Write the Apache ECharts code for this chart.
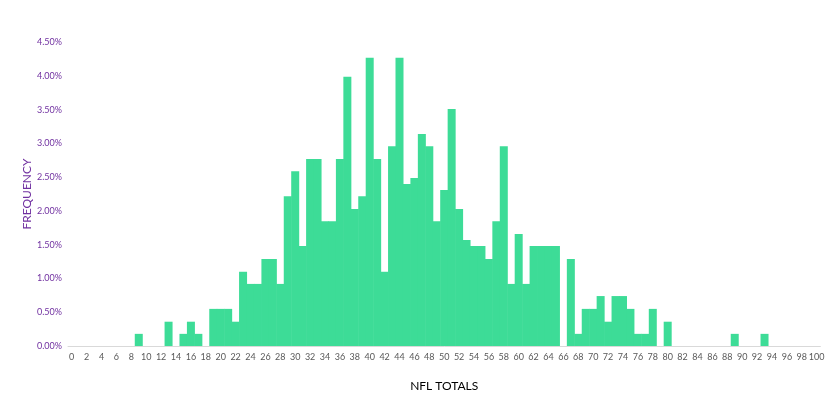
<!DOCTYPE html>
<html><head><meta charset="utf-8">
<script src="https://cdn.jsdelivr.net/npm/echarts@6/dist/echarts.min.js"></script>
<style>html,body{margin:0;padding:0;background:#fff}#c{width:840px;height:412px}</style>
</head><body><div id="c"></div>
<script>
// NFL totals 0..100
const totals = Array.from({length: 101}, (_, i) => String(i));
// frequency (%) per total
const frequency = [
  0, 0, 0, 0, 0, 0, 0, 0, 0, 0.18,          // 0-9
  0, 0, 0, 0.36, 0, 0.18, 0.36, 0.18, 0, 0.55, // 10-19
  0.55, 0.55, 0.36, 1.10, 0.92, 0.92, 1.29, 1.29, 0.92, 2.22, // 20-29
  2.59, 1.48, 2.77, 2.77, 1.85, 1.85, 2.77, 3.99, 2.03, 2.22, // 30-39
  4.27, 2.77, 1.10, 2.96, 4.27, 2.40, 2.49, 3.14, 2.96, 1.85, // 40-49
  2.31, 3.51, 2.03, 1.57, 1.48, 1.48, 1.29, 1.85, 2.96, 0.92, // 50-59
  1.66, 0.92, 1.48, 1.48, 1.48, 1.48, 0, 1.29, 0.18, 0.55,   // 60-69
  0.55, 0.74, 0.36, 0.74, 0.74, 0.55, 0.18, 0.18, 0.55, 0,   // 70-79
  0.36, 0, 0, 0, 0, 0, 0, 0, 0, 0.18,                        // 80-89
  0, 0, 0, 0.18, 0, 0, 0, 0, 0, 0,                           // 90-99
  0                                                          // 100
];
const yTicks = [0, 0.5, 1, 1.5, 2, 2.5, 3, 3.5, 4, 4.5];
const xTitle = 'NFL TOTALS';
const yTitle = 'FREQUENCY';

const font = 'Lato, "Open Sans", sans-serif';
const chart = echarts.init(document.getElementById('c'));
chart.setOption({
  animation: false,
  grid: {left: 68, right: 19.6, top: 42.3, bottom: 66},
  graphic: [{
    type: 'text',
    x: 27, y: 194,
    rotation: Math.PI / 2,
    style: {text: yTitle, fill: '#7030A0', font: '12px ' + font, align: 'center', verticalAlign: 'middle'}
  }],
  xAxis: {
    type: 'category',
    data: totals,
    boundaryGap: true,
    axisTick: {show: false},
    axisLine: {lineStyle: {color: '#d9d9d9', width: 1}},
    axisLabel: {interval: 1, color: '#595959', fontSize: 9, fontFamily: font, margin: 7},
    name: xTitle,
    nameLocation: 'middle',
    nameGap: 34,
    nameTextStyle: {color: '#000', fontSize: 12, fontFamily: font}
  },
  yAxis: {
    type: 'value',
    min: yTicks[0],
    max: yTicks[yTicks.length - 1],
    interval: 0.5,
    splitLine: {show: false},
    axisLine: {show: false},
    axisTick: {show: false},
    axisLabel: {color: '#7030A0', fontSize: 9, fontFamily: font, margin: 6,
      formatter: v => v.toFixed(2) + '%'}
  },
  series: [{
    type: 'bar',
    data: frequency,
    barWidth: 8,
    itemStyle: {color: '#3DDC97'}
  }]
});
</script></body></html>
